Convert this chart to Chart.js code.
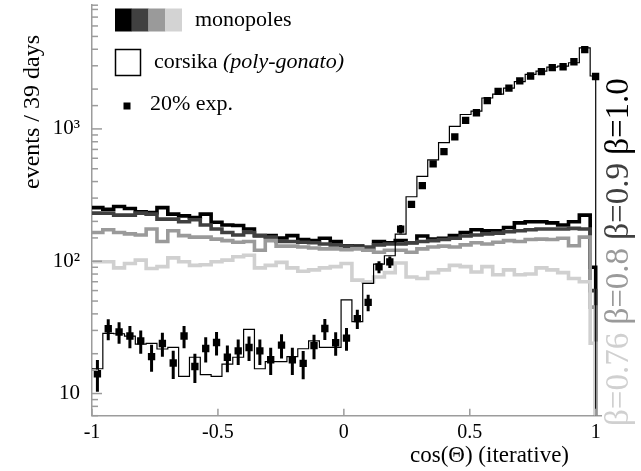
<!DOCTYPE html>
<html>
<head>
<meta charset="utf-8">
<script src="https://cdn.jsdelivr.net/npm/chart.js@4/dist/chart.umd.min.js"></script>
<style>
  html, body { margin: 0; padding: 0; background: #fff; }
  canvas { display: block; }
</style>
</head>
<body>
<canvas id="chart" width="641" height="471"></canvas>
<script>
// cos(theta) binning: 47 bins of 0.043 starting at -1, last bin cut at 1.0
const BIN = 0.043;
const X_MIN = -1, X_MAX = 1.021;
const Y_MIN = 6.8, Y_MAX = 8610;
const xTicks = [-1, -0.5, 0, 0.5, 1];
const yLabels = { 10: "10", 100: "10\u00b2", 1000: "10\u00b3" };

// corsika (poly-gonato) MC
const corsika = [15.4, 28.5, 28.3, 27.2, 23.6, 23.9, 21.7, 22.3, 13.5, 18.8,
  13.9, 13.5, 16.7, 18.8, 30.5, 15.4, 17.4, 17.4, 19.0, 21.8,
  25.0, 22.3, 22.3, 51.0, 35.0, 68, 95, 110, 160, 307,
  438, 583, 787, 1045, 1285, 1362, 1712, 1834, 2034, 2281,
  2587, 2737, 2931, 2985, 3162, 4093, 2512];

// 20% experimental sample
const expData = [14.1, 30.9, 29.2, 27.2, 25.0, 19.0, 23.9, 17.0, 27.2, 16.0,
  21.9, 24.3, 18.8, 21.0, 22.3, 21.0, 18.0, 23.2, 18.0, 16.9,
  23.0, 31.0, 24.2, 26.2, 36.8, 48.9, 90.6, 98.9, 175, 269,
  373, 544, 673, 871, 1159, 1324, 1634, 1922, 2034, 2305,
  2512, 2711, 2904, 2952, 3217, 3975, 2490];
const expErr = [3.8, 5.6, 5.4, 5.2, 5.0, 4.4, 4.9, 4.1, 5.2, 4.0,
  4.7, 4.9, 4.3, 4.6, 4.7, 4.6, 4.2, 4.8, 4.2, 4.1,
  4.8, 5.6, 4.9, 5.1, 6.1, 7.0, 9.5, 9.9, 13, 16,
  19, 23, 26, 30, 34, 36, 40, 44, 45, 48,
  50, 52, 54, 54, 57, 63, 50];

// monopole signal for different beta
const beta10 = [254, 247, 259, 250, 236, 233, 254, 227, 220, 214,
  227, 197, 188, 186, 175, 156, 156, 150, 156, 146,
  143, 149, 141, 131, 130, 124, 141, 138, 143, 138,
  155, 147, 149, 156, 165, 173, 170, 170, 180, 195,
  199, 199, 195, 188, 199, 223, 90];
const beta09 = [231, 231, 223, 223, 231, 227, 208, 208, 199, 206,
  188, 175, 165, 158, 165, 156, 152, 141, 141, 139,
  138, 135, 133, 130, 128, 128, 133, 135, 135, 138,
  141, 143, 146, 149, 155, 158, 161, 163, 167, 170,
  173, 175, 175, 175, 177, 175, 60];
const beta08 = [165, 173, 165, 161, 158, 175, 141, 170, 156, 152,
  152, 147, 143, 139, 141, 121, 143, 130, 130, 128,
  126, 124, 124, 122, 124, 121, 117, 121, 121, 117,
  124, 128, 130, 128, 133, 138, 135, 139, 143, 141,
  146, 147, 146, 149, 131, 152, 45];
const beta076 = [99, 99, 89, 96, 102, 88, 91, 106, 99, 93,
  94, 99, 102, 108, 111, 89, 93, 98, 89, 84,
  86, 89, 91, 96, 72, 70, 76, 82, 97, 76,
  74, 82, 86, 93, 91, 83, 91, 79, 86, 79,
  80, 89, 86, 82, 74, 70, 24];

const monopoles = [
  { label: "\u03b2=0.76", color: "#d0d0d0", values: beta076 },
  { label: "\u03b2=0.8", color: "#9a9a9a", values: beta08 },
  { label: "\u03b2=0.9", color: "#404040", values: beta09 },
  { label: "\u03b2=1.0", color: "#000000", values: beta10 },
];

const edges = [];
for (let k = 0; k < corsika.length; k++) edges.push(X_MIN + k * BIN);
edges.push(1.0);

// histogram outline: flat top per bin, falling to the axis after the last bin
const outline = (values) => {
  const pts = [];
  values.forEach((v, k) => {
    pts.push({ x: edges[k], y: v });
    pts.push({ x: edges[k + 1], y: v });
  });
  pts.push({ x: edges[values.length], y: Y_MIN });
  return pts;
};

const expPoints = expData.map((v, k) => ({ x: X_MIN + (k + 0.5) * BIN, y: v }));

const SERIF = "'Liberation Serif', 'DejaVu Serif', serif";
Chart.defaults.font.family = SERIF;
Chart.defaults.color = "#000";
const AXIS_GRAY = "#9c9c9c";

const noPad = (scale) => {
  scale.paddingTop = 0;
  scale.paddingBottom = 0;
  scale.paddingLeft = 0;
  scale.paddingRight = 0;
};

const decor = {
  id: "decor",
  afterDatasetsDraw(chart) {
    const { ctx } = chart;
    const xs = chart.scales.x, ys = chart.scales.y;
    ctx.save();
    ctx.beginPath();
    ctx.rect(chart.chartArea.left, chart.chartArea.top,
      chart.chartArea.right - chart.chartArea.left, chart.chartArea.bottom - chart.chartArea.top);
    ctx.clip();
    ctx.strokeStyle = "#000";
    ctx.lineWidth = 3;
    expPoints.forEach((p, k) => {
      const e = expErr[k];
      const px = xs.getPixelForValue(p.x);
      ctx.beginPath();
      ctx.moveTo(px, ys.getPixelForValue(p.y + e));
      ctx.lineTo(px, ys.getPixelForValue(Math.max(p.y - e, Y_MIN)));
      ctx.stroke();
    });
    ctx.restore();
  },
  afterDraw(chart) {
    const { ctx, chartArea } = chart;
    const xs = chart.scales.x, ys = chart.scales.y;
    ctx.save();

    // inward tick marks
    ctx.strokeStyle = AXIS_GRAY;
    ctx.lineWidth = 1.5;
    ys.ticks.forEach((t) => {
      const v = t.value;
      if (v < Y_MIN || v > Y_MAX) return;
      const lg = Math.log10(v);
      const major = Math.abs(lg - Math.round(lg)) < 1e-9;
      const py = ys.getPixelForValue(v);
      ctx.beginPath();
      ctx.moveTo(chartArea.left, py);
      ctx.lineTo(chartArea.left + (major ? 10 : 6), py);
      ctx.stroke();
    });
    xs.ticks.forEach((t) => {
      const px = xs.getPixelForValue(t.value);
      ctx.beginPath();
      ctx.moveTo(px, chartArea.bottom);
      ctx.lineTo(px, chartArea.bottom - 7);
      ctx.stroke();
    });

    // axis titles
    ctx.fillStyle = "#000";
    ctx.font = "24px " + SERIF;
    ctx.textAlign = "center";
    ctx.textBaseline = "alphabetic";
    ctx.save();
    ctx.translate(39, 112);
    ctx.rotate(-Math.PI / 2);
    ctx.fillText("events / 39 days", 0, 0);
    ctx.restore();
    ctx.font = "23px " + SERIF;
    ctx.textAlign = "left";
    ctx.fillText("cos(\u0398) (iterative)", 410, 462);

    // legend
    ["#000000", "#404040", "#9a9a9a", "#d3d3d3"].forEach((c, i) => {
      ctx.fillStyle = c;
      ctx.fillRect(115 + i * 16.7, 8.5, 16.9, 23);
    });
    ctx.fillStyle = "#000";
    ctx.font = "22px " + SERIF;
    ctx.textBaseline = "middle";
    ctx.fillText("monopoles", 195, 20);
    ctx.strokeStyle = "#000";
    ctx.lineWidth = 1.5;
    ctx.strokeRect(115.5, 49.5, 25, 26);
    ctx.fillText("corsika ", 154, 62);
    const w1 = ctx.measureText("corsika ").width;
    ctx.font = "italic 22px " + SERIF;
    ctx.fillText("(poly-gonato)", 154 + w1, 62);
    ctx.font = "22px " + SERIF;
    ctx.fillRect(123.5, 102.5, 7, 7);
    ctx.fillText("20% exp.", 150, 104);

    // beta labels, rotated, reading upwards
    ctx.font = "33px " + SERIF;
    ctx.textBaseline = "alphabetic";
    ctx.textAlign = "left";
    ctx.save();
    ctx.translate(628, 426);
    ctx.rotate(-Math.PI / 2);
    let pos = 0;
    const gap = ctx.measureText(" ").width;
    monopoles.forEach((m) => {
      ctx.fillStyle = m.color;
      ctx.fillText(m.label, pos, 0);
      pos += ctx.measureText(m.label).width + gap;
    });
    ctx.restore();

    ctx.restore();
  },
};

const datasets = [
  {
    label: "20% exp.",
    data: expPoints,
    showLine: false,
    pointStyle: "rect",
    pointRadius: 5.2,
    pointBackgroundColor: "#000",
    pointBorderWidth: 0,
  },
  {
    label: "corsika (poly-gonato)",
    data: outline(corsika),
    borderColor: "#000",
    borderWidth: 1.2,
    pointRadius: 0,
    tension: 0,
  },
  ...monopoles.map((m) => ({
    label: m.label,
    data: outline(m.values),
    borderColor: m.color,
    borderWidth: 3.6,
    pointRadius: 0,
    tension: 0,
    borderJoinStyle: "miter",
  })),
];

new Chart(document.getElementById("chart"), {
  type: "line",
  data: { datasets },
  options: {
    responsive: false,
    animation: false,
    devicePixelRatio: 1,
    layout: { padding: { top: 0, right: 40, left: 0, bottom: 0 } },
    plugins: {
      legend: { display: false },
      tooltip: { enabled: false },
    },
    scales: {
      x: {
        type: "linear",
        min: X_MIN,
        max: X_MAX,
        afterBuildTicks: (scale) => {
          scale.ticks = xTicks.map((v) => ({ value: v }));
        },
        afterFit: (scale) => {
          scale.height = 55.3;
          noPad(scale);
        },
        grid: { display: false, drawTicks: false },
        border: { display: true, color: AXIS_GRAY, width: 1.5 },
        ticks: {
          autoSkip: false,
          maxRotation: 0,
          padding: 5,
          color: "#000",
          font: { size: 20, family: SERIF },
          callback: (v) => String(v),
        },
      },
      y: {
        type: "logarithmic",
        min: Y_MIN,
        max: Y_MAX,
        afterFit: (scale) => {
          scale.width = 92;
          noPad(scale);
        },
        grid: { display: false, drawTicks: false },
        border: { display: true, color: AXIS_GRAY, width: 1.5 },
        ticks: {
          autoSkip: false,
          padding: 12,
          color: "#000",
          font: { size: 21, family: SERIF },
          callback: (v) => yLabels[v] || "",
        },
      },
    },
  },
  plugins: [decor],
});
</script>
</body>
</html>
